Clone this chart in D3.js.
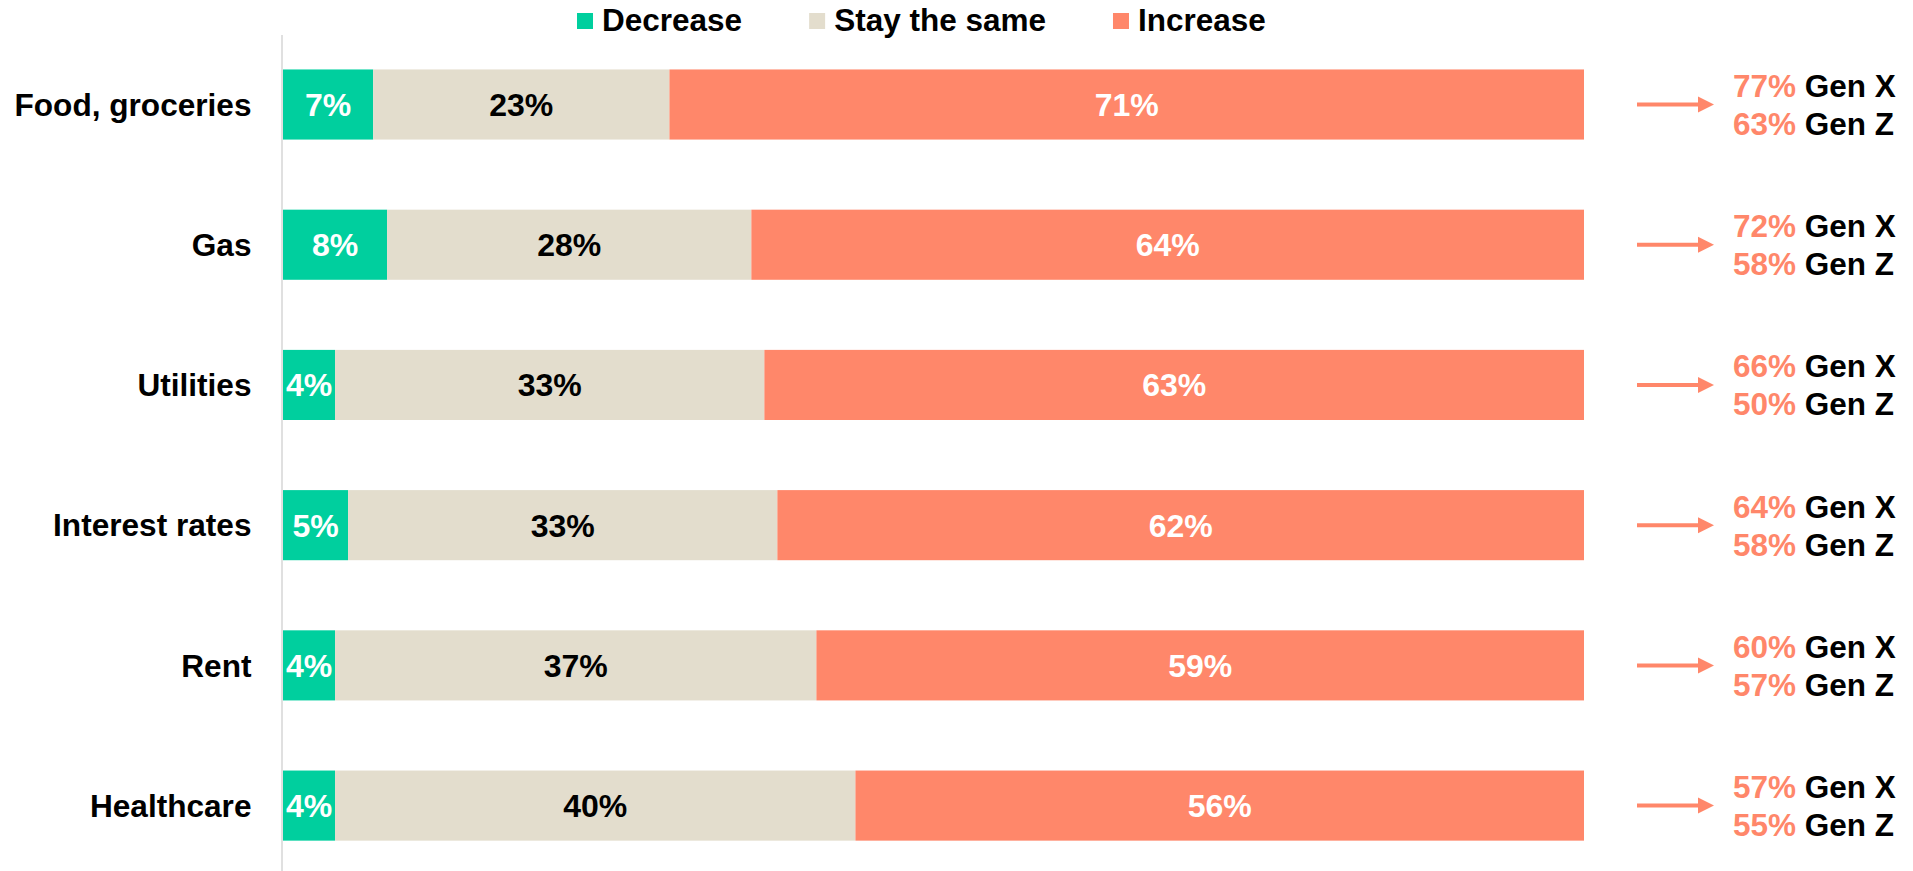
<!DOCTYPE html>
<html>
<head>
<meta charset="utf-8">
<script src="https://cdn.jsdelivr.net/npm/d3@7"></script>
<style>
  html, body { margin: 0; padding: 0; background: #fff; }
  svg { display: block; font-family: "Liberation Sans", Arial, sans-serif; font-weight: bold; }
</style>
</head>
<body>
<svg id="chart" width="1913" height="871"></svg>
<script>
const categories = ["Food, groceries", "Gas", "Utilities", "Interest rates", "Rent", "Healthcare"];
const seriesNames = ["Decrease", "Stay the same", "Increase"];
const decrease = [7, 8, 4, 5, 4, 4];
const stayTheSame = [23, 28, 33, 33, 37, 40];
const increase = [71, 64, 63, 62, 59, 56];
const genX = [77, 72, 66, 64, 60, 57];
const genZ = [63, 58, 50, 58, 57, 55];

const colors = ["#00CF9E", "#E3DDCD", "#FF876A"];
const labelColors = ["#FFFFFF", "#000000", "#FFFFFF"];

const svg = d3.select("#chart");

const x = d3.scaleLinear().domain([0, 100]).range([283, 1584]);
const y = d3.scaleBand().domain(categories).range([34.4, 875.7]).paddingInner(0.5).paddingOuter(0.25);

const rows = categories.map((c, i) => {
  const vals = [decrease[i], stayTheSame[i], increase[i]];
  const total = d3.sum(vals);
  let cum = 0;
  const segs = vals.map((v, k) => {
    const s = { cat: c, k, v, x0: cum / total * 100, x1: (cum + v) / total * 100 };
    cum += v;
    return s;
  });
  return { cat: c, i, segs };
});

// axis (category labels + vertical line)
const axis = d3.axisLeft(y).tickSize(0).tickSizeOuter(0).tickPadding(30);
const gAxis = svg.append("g").attr("transform", `translate(281.5,0)`).call(axis);
gAxis.select(".domain").attr("stroke", "#D9D9D9").attr("stroke-width", 1.6);
gAxis.selectAll(".tick text")
  .attr("font-family", "'Liberation Sans', Arial, sans-serif")
  .attr("font-weight", "bold")
  .attr("font-size", 31.6)
  .attr("fill", "#000")
  .attr("dy", null)
  .attr("y", 11.3);

// bars
const gRows = svg.append("g").selectAll("g").data(rows).join("g");
gRows.selectAll("rect").data(d => d.segs).join("rect")
  .attr("x", d => x(d.x0))
  .attr("width", d => x(d.x1) - x(d.x0))
  .attr("y", d => y(d.cat))
  .attr("height", y.bandwidth())
  .attr("fill", d => colors[d.k]);

gRows.selectAll("text.val").data(d => d.segs).join("text")
  .attr("class", "val")
  .attr("x", d => (x(d.x0) + x(d.x1)) / 2)
  .attr("y", d => y(d.cat) + y.bandwidth() / 2 + 11.5)
  .attr("text-anchor", "middle")
  .attr("font-size", 32)
  .attr("fill", d => labelColors[d.k])
  .text(d => d.v + "%");

// right annotations
const ann = svg.append("g").selectAll("g").data(rows).join("g")
  .attr("transform", d => `translate(0,${y(d.cat) + y.bandwidth() / 2})`);
ann.append("line")
  .attr("x1", 1637).attr("x2", 1700)
  .attr("y1", 0).attr("y2", 0)
  .attr("stroke", colors[2]).attr("stroke-width", 4);
ann.append("path")
  .attr("d", "M1698,-8 L1714,0 L1698,8 Z")
  .attr("fill", colors[2]);
const t1 = ann.append("text").attr("x", 1733).attr("y", -7.5).attr("font-size", 31.5);
t1.append("tspan").attr("fill", colors[2]).text(d => genX[d.i] + "%");
t1.append("tspan").attr("fill", "#000").text(" Gen X");
const t2 = ann.append("text").attr("x", 1733).attr("y", 30.5).attr("font-size", 31.5);
t2.append("tspan").attr("fill", colors[2]).text(d => genZ[d.i] + "%");
t2.append("tspan").attr("fill", "#000").text(" Gen Z");

// legend
const legend = svg.append("g");
let lx = 577;
seriesNames.forEach((name, k) => {
  legend.append("rect").attr("x", lx).attr("y", 13).attr("width", 16).attr("height", 16).attr("fill", colors[k]);
  const t = legend.append("text").attr("x", lx + 25).attr("y", 31).attr("font-size", 31.5).attr("fill", "#000").text(name);
  const w = t.node().getComputedTextLength();
  lx = lx + 25 + w + 67;
});
</script>
</body>
</html>
